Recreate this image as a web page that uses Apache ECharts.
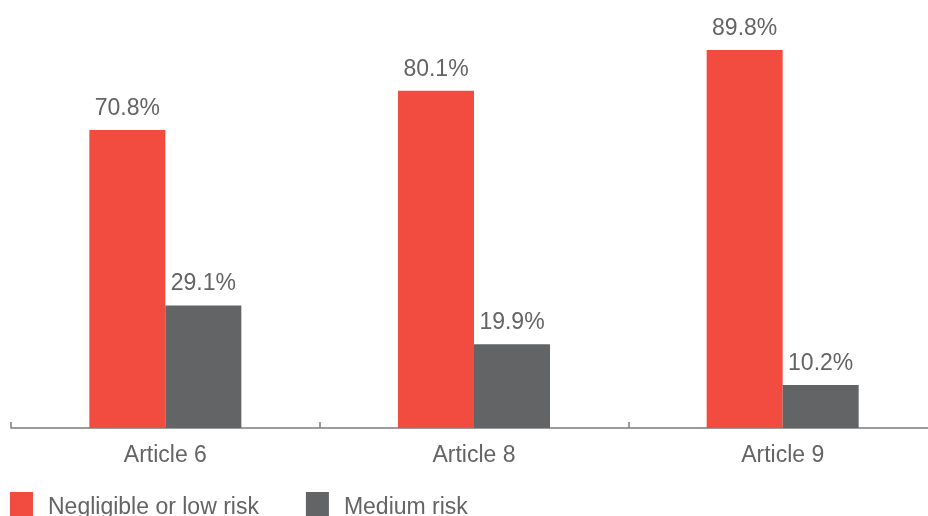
<!DOCTYPE html>
<html>
<head>
<meta charset="utf-8">
<script src="https://cdn.jsdelivr.net/npm/echarts@6/dist/echarts.min.js"></script>
<style>
  html, body { margin: 0; padding: 0; background: #ffffff; overflow: hidden; }
  #wrap { width: 928px; height: 516px; overflow: hidden; }
  /* the axis runs past the right edge, so the canvas is a little wider than the view */
  #chart { width: 937px; height: 516px; }
</style>
</head>
<body>
<div id="wrap"><div id="chart"></div></div>
<script>
// Share of products by risk level, per SFDR article
const categories = ['Article 6', 'Article 8', 'Article 9'];
const lowRisk = [70.8, 80.1, 89.8];
const mediumRisk = [29.1, 19.9, 10.2];
const seriesNames = ['Negligible or low risk', 'Medium risk'];

const FONT = '"Liberation Sans", Arial, Helvetica, sans-serif';
const TEXT = '#646464';
const SIZE = 23;

const chart = echarts.init(document.getElementById('chart'));

const valueLabel = {
  show: true,
  position: 'top',
  distance: 10,
  color: TEXT,
  fontFamily: FONT,
  fontSize: SIZE,
  formatter: p => p.value.toFixed(1) + '%'
};

chart.setOption({
  animation: false,
  grid: { left: 11, right: 0, top: 7, bottom: 88, containLabel: false },
  legend: {
    left: 10,
    top: 492,
    padding: 0,
    itemWidth: 23,
    itemHeight: 31,
    itemGap: 47,
    icon: 'rect',
    textStyle: { color: TEXT, fontFamily: FONT, fontSize: SIZE, padding: [0, 0, 0, 10] },
    data: seriesNames
  },
  xAxis: {
    type: 'category',
    data: categories,
    axisLine: { lineStyle: { color: '#7c7c7c', width: 1.5 } },
    axisTick: { show: true, inside: true, length: 6, lineStyle: { color: '#7c7c7c', width: 1.5 } },
    axisLabel: { color: TEXT, fontFamily: FONT, fontSize: SIZE, margin: 16 }
  },
  yAxis: {
    type: 'value',
    min: 0,
    max: 100,
    show: false,
    splitLine: { show: false }
  },
  series: [
    {
      name: seriesNames[0],
      type: 'bar',
      data: lowRisk,
      barWidth: 76,
      barGap: '0%',
      itemStyle: { color: '#f24c40' },
      label: valueLabel
    },
    {
      name: seriesNames[1],
      type: 'bar',
      data: mediumRisk,
      barWidth: 76,
      itemStyle: { color: '#636466' },
      label: valueLabel
    }
  ]
});
</script>
</body>
</html>
